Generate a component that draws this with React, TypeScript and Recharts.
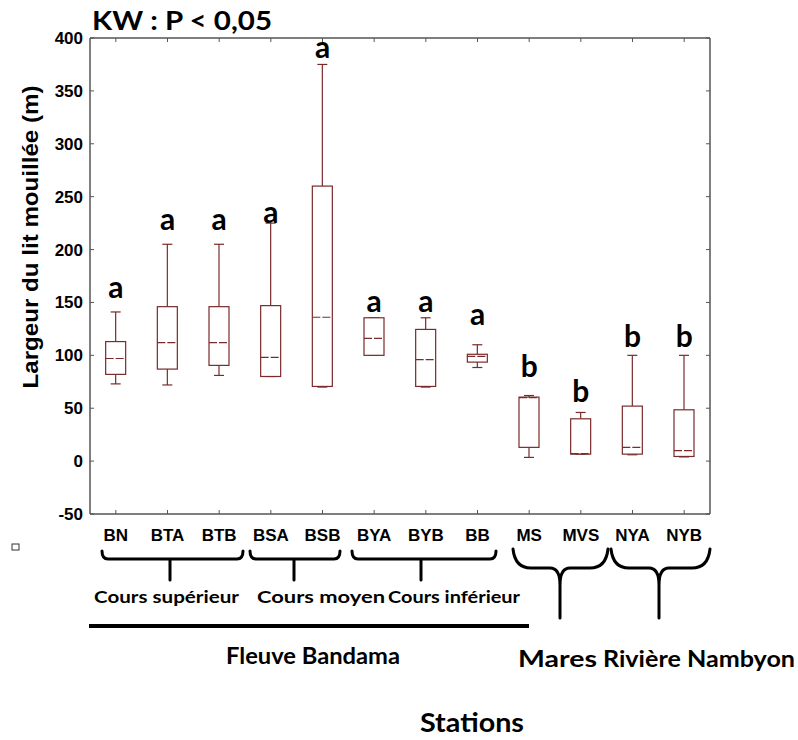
import { ComposedChart, Bar, Scatter, XAxis, YAxis } from 'recharts'

const stations = ['BN', 'BTA', 'BTB', 'BSA', 'BSB', 'BYA', 'BYB', 'BB', 'MS', 'MVS', 'NYA', 'NYB']
const minVals = [73, 72, 81, 80, 70, 100, 70, 88.5, 3.5, 6.6, 6, 4]
const q1Vals = [82, 87, 90.5, 80, 70.6, 100, 70.6, 93.6, 13, 6.6, 6.6, 4.4]
const medianVals = [97, 112, 112, 98, 136, 116, 96, 99, 60, 7, 13, 10]
const q3Vals = [113, 146, 146, 147, 260, 135.5, 124.5, 101, 60.5, 40, 52, 48.5]
const maxVals = [141, 205, 205, 225, 375, 135.5, 135.5, 110, 62, 46, 100, 100]
const letters = ['a', 'a', 'a', 'a', 'a', 'a', 'a', 'a', 'b', 'b', 'b', 'b']
const letterPos = [166, 230, 230, 236, 392, 152, 152, 140, 91, 67, 119, 119]
const yTicks = [-50, 0, 50, 100, 150, 200, 250, 300, 350, 400]

const data = stations.map((s, i) => ({
  name: s,
  range: [minVals[i], maxVals[i]],
  min: minVals[i],
  q1: q1Vals[i],
  median: medianVals[i],
  q3: q3Vals[i],
  max: maxVals[i],
  letter: letters[i],
  letterPos: letterPos[i],
}))

const BOX = '#7a2a2a'
const AXIS = '#555'
const ARIAL = '"Liberation Sans", Arial, sans-serif'
const CALIBRI = 'Lato, "Noto Sans", sans-serif'

const BoxShape = (props: any) => {
  const { x, y, width, height, payload } = props
  const top = Math.min(y, y + height)
  const h = Math.abs(height)
  const { min, max, q1, median, q3 } = payload
  const py = (v: number) => top + ((max - v) / (max - min)) * h
  const cx = x + width / 2
  const bw = 20
  const cap = 10
  return (
    <g stroke={BOX} strokeWidth={1.2} fill="none">
      <line x1={cx} x2={cx} y1={py(max)} y2={py(q3)} />
      <line x1={cx} x2={cx} y1={py(q1)} y2={py(min)} />
      <line x1={cx - cap / 2} x2={cx + cap / 2} y1={py(max)} y2={py(max)} />
      <line x1={cx - cap / 2} x2={cx + cap / 2} y1={py(min)} y2={py(min)} />
      <rect x={cx - bw / 2} y={py(q3)} width={bw} height={py(q1) - py(q3)} fill="#fff" />
      <line x1={cx - bw / 2} x2={cx + bw / 2} y1={py(median)} y2={py(median)} strokeDasharray="8 2" />
    </g>
  )
}

const LetterShape = (props: any) => (
  <text x={props.cx} y={props.cy} textAnchor="middle" dominantBaseline="central"
    fontFamily={CALIBRI} fontWeight={700} fontSize={30} fill="#000">
    {props.payload.letter}
  </text>
)

const BottomTick = (props: any) => {
  const { x, y, payload } = props
  return (
    <g>
      <line x1={x} x2={x} y1={y} y2={y - 4} stroke={AXIS} />
      <text x={x} y={y + 27} textAnchor="middle" fontFamily={ARIAL} fontWeight={700} fontSize={17} fill="#000">
        {payload.value}
      </text>
    </g>
  )
}

const TopTick = (props: any) => (
  <line x1={props.x} x2={props.x} y1={props.y} y2={props.y + 4} stroke={AXIS} />
)

const LeftTick = (props: any) => {
  const { x, y, payload } = props
  return (
    <g>
      <line x1={x} x2={x + 4} y1={y} y2={y} stroke={AXIS} />
      <text x={x - 7} y={y + 6} textAnchor="end" fontFamily={ARIAL} fontWeight={700} fontSize={17} fill="#000">
        {payload.value}
      </text>
    </g>
  )
}

const RightTick = (props: any) => (
  <line x1={props.x} x2={props.x - 4} y1={props.y} y2={props.y} stroke={AXIS} />
)

const bracket = (x1: number, x2: number, xm: number) =>
  `M${x1},551 Q${x1},559 ${x1 + 6},559 L${x2 - 6},559 Q${x2},559 ${x2},551 M${xm},559 L${xm},580`

const brace = (x1: number, x2: number, xm: number) =>
  `M${x1},549 Q${x1 + 2},568 ${x1 + 18},568 L${xm - 10},568 Q${xm},568 ${xm},585 L${xm},618 ` +
  `M${xm},585 Q${xm},568 ${xm + 10},568 L${x2 - 18},568 Q${x2 - 2},568 ${x2},549`

export default function App() {
  return (
    <div style={{ position: 'absolute', left: 0, top: 0, width: 798, height: 740, background: '#fff', overflow: 'hidden' }}>
      <ComposedChart width={798} height={740} data={data}
        margin={{ top: 33, right: 78, left: 30, bottom: 196 }}>
        <XAxis dataKey="name" xAxisId="bottom" orientation="bottom" height={30}
          tickSize={0} tickMargin={0} tickLine={false} tick={BottomTick} interval={0}
          axisLine={{ stroke: AXIS, strokeWidth: 1.5 }} />
        <XAxis dataKey="name" xAxisId="top" orientation="top" height={5}
          tickSize={0} tickMargin={0} tickLine={false} tick={TopTick} interval={0}
          axisLine={{ stroke: AXIS, strokeWidth: 1.5 }} />
        <YAxis yAxisId="left" orientation="left" width={60} domain={[-50, 400]} ticks={yTicks}
          type="number" allowDataOverflow tickSize={0} tickMargin={0} tickLine={false} tick={LeftTick}
          interval={0} axisLine={{ stroke: AXIS, strokeWidth: 1.5 }} />
        <YAxis yAxisId="right" orientation="right" width={10} domain={[-50, 400]} ticks={yTicks}
          type="number" allowDataOverflow tickSize={0} tickMargin={0} tickLine={false} tick={RightTick}
          interval={0} axisLine={{ stroke: AXIS, strokeWidth: 1.5 }} />
        <Bar dataKey="range" xAxisId="bottom" yAxisId="left" shape={BoxShape} isAnimationActive={false} />
        <Scatter dataKey="letterPos" xAxisId="bottom" yAxisId="left" shape={LetterShape} isAnimationActive={false} />
      </ComposedChart>
      <svg width={798} height={740} style={{ position: 'absolute', left: 0, top: 0, pointerEvents: 'none' }}>
        <text x={92} y={30} fontFamily={CALIBRI} fontWeight={700} fontSize={27} textLength={180}
          lengthAdjust="spacingAndGlyphs" fill="#000">KW : P &lt; 0,05</text>
        <text transform="translate(38,237) rotate(-90)" textAnchor="middle" fontFamily={ARIAL}
          fontWeight={700} fontSize={22} textLength={303} lengthAdjust="spacingAndGlyphs"
          fill="#000">Largeur du lit mouillée (m)</text>
        <rect x={12} y={544} width={7} height={6} fill="none" stroke="#333" strokeWidth={1} />
        <g stroke="#000" strokeWidth={3} fill="none" strokeLinecap="round">
          <path d={bracket(102, 243, 170)} />
          <path d={bracket(250, 340, 294)} />
          <path d={bracket(352, 496, 421)} />
          <path d={brace(513, 608, 560)} />
          <path d={brace(611, 710, 659)} />
        </g>
        <line x1={89} x2={529} y1={626} y2={626} stroke="#000" strokeWidth={4} />
        <g fontFamily={CALIBRI} fontWeight={700} fill="#000">
          <text x={94} y={603} fontSize={17} textLength={145} lengthAdjust="spacingAndGlyphs">Cours supérieur</text>
          <text x={257} y={603} fontSize={17} textLength={128} lengthAdjust="spacingAndGlyphs">Cours moyen</text>
          <text x={388} y={603} fontSize={17} textLength={132} lengthAdjust="spacingAndGlyphs">Cours inférieur</text>
          <text x={226} y={664} fontSize={23} textLength={174} lengthAdjust="spacingAndGlyphs">Fleuve Bandama</text>
          <text x={518} y={667} fontSize={23} textLength={79} lengthAdjust="spacingAndGlyphs">Mares</text>
          <text x={603} y={667} fontSize={23} textLength={192} lengthAdjust="spacingAndGlyphs">Rivière Nambyon</text>
          <text x={420} y={732} fontSize={27} textLength={104} lengthAdjust="spacingAndGlyphs">Stations</text>
        </g>
      </svg>
    </div>
  )
}
